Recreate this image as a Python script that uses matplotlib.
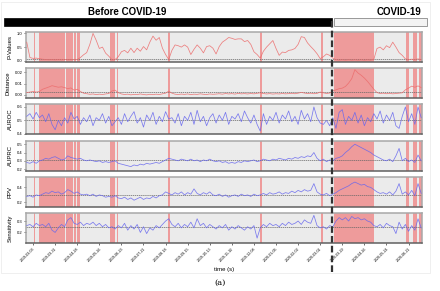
import matplotlib
matplotlib.use('Agg')
import matplotlib.pyplot as plt
import matplotlib.dates as mdates
from matplotlib.lines import Line2D
from matplotlib.patches import Rectangle
import pandas as pd

plt.rcParams['font.family'] = ['Liberation Sans', 'DejaVu Sans']

# sampling dates (every 4 days) and the covid split
dates = pd.date_range('2019-02-23', periods=126, freq='4D')
covid_start = pd.Timestamp('2020-03-16')
tick_dates = pd.date_range('2019-03-03', '2020-06-21', freq='28D')

p_values = [
    0.68, 0.12, 0.09, 0.10, 0.08, 0.06, 0.05, 0.04, 0.05, 0.04,
    0.05, 0.04, 0.05, 0.04, 0.05, 0.04, 0.05, 0.12, 0.22, 0.30,
    0.60, 1.00, 0.75, 0.45, 0.50, 0.28, 0.17, 0.04, 0.05, 0.15,
    0.33, 0.38, 0.29, 0.46, 0.30, 0.46, 0.35, 0.52, 0.40, 0.68,
    0.90, 0.75, 0.85, 0.46, 0.23, 0.05, 0.38, 0.58, 0.55, 0.50,
    0.58, 0.50, 0.23, 0.42, 0.58, 0.46, 0.29, 0.52, 0.55, 0.46,
    0.25, 0.52, 0.68, 0.76, 0.85, 0.82, 0.78, 0.80, 0.80, 0.70,
    0.74, 0.60, 0.33, 0.23, 0.10, 0.35, 0.50, 0.62, 0.74, 0.45,
    0.20, 0.32, 0.30, 0.38, 0.40, 0.45, 0.60, 0.88, 0.85, 0.65,
    0.52, 0.40, 0.26, 0.08, 0.15, 0.25, 0.20, 0.10, 0.04, 0.03,
    0.04, 0.03, 0.04, 0.03, 0.04, 0.03, 0.04, 0.03, 0.04, 0.03,
    0.06, 0.45, 0.50, 0.40, 0.55, 0.48, 0.68, 0.50, 0.30, 0.20,
    0.07, 0.05, 0.06, 0.05, 0.07, 0.05,
]
distance = [
    0.0020, 0.0025, 0.0030, 0.0025, 0.0030, 0.0050, 0.0060, 0.0070, 0.0082, 0.0075,
    0.0068, 0.0072, 0.0065, 0.0055, 0.0062, 0.0042, 0.0050, 0.0030, 0.0015, 0.0010,
    0.0005, 0.0008, 0.0002, 0.0006, 0.0003, 0.0008, 0.0012, 0.0035, 0.0042, 0.0020,
    0.0008, 0.0003, 0.0006, 0.0000, 0.0004, 0.0002, 0.0008, 0.0003, 0.0000, 0.0005,
    0.0002, 0.0006, 0.0003, 0.0009, 0.0015, 0.0033, 0.0015, 0.0006, 0.0003, 0.0007,
    0.0004, 0.0008, 0.0002, 0.0006, 0.0004, 0.0009, 0.0005, 0.0003, 0.0008, 0.0005,
    0.0007, 0.0010, 0.0006, 0.0012, 0.0008, 0.0011, 0.0007, 0.0013, 0.0009, 0.0011,
    0.0008, 0.0012, 0.0009, 0.0014, 0.0018, 0.0012, 0.0008, 0.0011, 0.0007, 0.0010,
    0.0008, 0.0012, 0.0009, 0.0011, 0.0014, 0.0010, 0.0015, 0.0022, 0.0016, 0.0012,
    0.0015, 0.0010, 0.0013, 0.0025, 0.0018, 0.0012, 0.0016, 0.0035, 0.0045, 0.0055,
    0.0060, 0.0075, 0.0105, 0.0145, 0.0225, 0.0195, 0.0175, 0.0150, 0.0120, 0.0085,
    0.0050, 0.0020, 0.0012, 0.0015, 0.0010, 0.0014, 0.0009, 0.0012, 0.0015, 0.0018,
    0.0045, 0.0060, 0.0078, 0.0068, 0.0080, 0.0065,
]
auroc = [
    0.53, 0.55, 0.51, 0.56, 0.52, 0.54, 0.49, 0.55, 0.47, 0.43,
    0.50, 0.46, 0.52, 0.48, 0.56, 0.51, 0.53, 0.47, 0.52, 0.49,
    0.54, 0.46, 0.52, 0.50, 0.55, 0.48, 0.53, 0.46, 0.49, 0.52,
    0.47, 0.55, 0.49, 0.53, 0.565, 0.48, 0.52, 0.45, 0.54, 0.50,
    0.56, 0.47, 0.53, 0.49, 0.565, 0.51, 0.52, 0.48, 0.55, 0.46,
    0.53, 0.50, 0.56, 0.47, 0.575, 0.49, 0.53, 0.46, 0.52, 0.55,
    0.48, 0.54, 0.50, 0.56, 0.47, 0.53, 0.51, 0.55, 0.49, 0.57,
    0.52, 0.48, 0.54, 0.47, 0.42, 0.55, 0.47, 0.53, 0.50, 0.56,
    0.48, 0.54, 0.51, 0.57, 0.49, 0.53, 0.47, 0.575, 0.51, 0.55,
    0.49, 0.60, 0.52, 0.48, 0.47, 0.50, 0.46, 0.52, 0.44, 0.56,
    0.58, 0.47, 0.53, 0.50, 0.56, 0.48, 0.54, 0.46, 0.52, 0.49,
    0.55, 0.51, 0.57, 0.48, 0.54, 0.50, 0.56, 0.46, 0.44, 0.53,
    0.60, 0.49, 0.55, 0.47, 0.60, 0.52,
]
auprc = [
    0.28, 0.27, 0.29, 0.27, 0.30, 0.31, 0.33, 0.32, 0.34, 0.35,
    0.33, 0.31, 0.32, 0.36, 0.34, 0.33, 0.32, 0.33, 0.31, 0.30,
    0.31, 0.30, 0.29, 0.30, 0.28, 0.29, 0.28, 0.29, 0.30, 0.27,
    0.26, 0.25, 0.24, 0.23, 0.25, 0.24, 0.26, 0.25, 0.27, 0.26,
    0.27, 0.28, 0.27, 0.29, 0.31, 0.33, 0.32, 0.31, 0.30, 0.32,
    0.31, 0.30, 0.32, 0.30, 0.31, 0.29, 0.31, 0.30, 0.32, 0.30,
    0.29, 0.30, 0.28, 0.29, 0.27, 0.28, 0.27, 0.29, 0.28, 0.30,
    0.29, 0.30, 0.31, 0.29, 0.30, 0.32, 0.31, 0.30, 0.32, 0.31,
    0.33, 0.32, 0.31, 0.33, 0.32, 0.34, 0.33, 0.35, 0.34, 0.36,
    0.35, 0.40, 0.33, 0.30, 0.32, 0.29, 0.31, 0.30, 0.33, 0.34,
    0.36, 0.40, 0.43, 0.47, 0.50, 0.48, 0.46, 0.44, 0.42, 0.40,
    0.37, 0.35, 0.33, 0.31, 0.30, 0.32, 0.29, 0.36, 0.45, 0.30,
    0.33, 0.29, 0.31, 0.28, 0.37, 0.30,
]
ppv = [
    0.28, 0.29, 0.27, 0.30, 0.29, 0.31, 0.33, 0.32, 0.35, 0.33,
    0.34, 0.31, 0.33, 0.37, 0.35, 0.32, 0.34, 0.31, 0.30, 0.31,
    0.29, 0.31, 0.28, 0.30, 0.29, 0.27, 0.28, 0.27, 0.29, 0.26,
    0.25, 0.27, 0.24, 0.26, 0.23, 0.25, 0.27, 0.24, 0.26, 0.25,
    0.28, 0.26, 0.29, 0.30, 0.34, 0.32, 0.30, 0.33, 0.31, 0.34,
    0.30, 0.33, 0.31, 0.38, 0.32, 0.30, 0.33, 0.31, 0.34, 0.30,
    0.29, 0.31, 0.28, 0.30, 0.27, 0.29, 0.30, 0.28, 0.31, 0.29,
    0.30, 0.28, 0.31, 0.29, 0.30, 0.32, 0.30, 0.33, 0.31, 0.32,
    0.34, 0.31, 0.33, 0.32, 0.35, 0.33, 0.36, 0.34, 0.37, 0.35,
    0.36, 0.45, 0.34, 0.31, 0.30, 0.32, 0.29, 0.31, 0.33, 0.36,
    0.38, 0.40, 0.42, 0.45, 0.47, 0.45, 0.43, 0.44, 0.41, 0.40,
    0.37, 0.34, 0.32, 0.33, 0.31, 0.34, 0.30, 0.35, 0.45, 0.31,
    0.34, 0.30, 0.36, 0.29, 0.45, 0.32,
]
sensitivity = [
    0.26, 0.27, 0.25, 0.28, 0.26, 0.27, 0.25, 0.28, 0.22, 0.20,
    0.24, 0.27, 0.25, 0.31, 0.33, 0.28, 0.27, 0.29, 0.26, 0.28,
    0.27, 0.29, 0.26, 0.28, 0.25, 0.27, 0.24, 0.25, 0.23, 0.26,
    0.24, 0.28, 0.22, 0.26, 0.23, 0.27, 0.20, 0.25, 0.19, 0.24,
    0.22, 0.26, 0.24, 0.27, 0.30, 0.32, 0.27, 0.25, 0.28, 0.24,
    0.27, 0.25, 0.29, 0.24, 0.32, 0.26, 0.28, 0.24, 0.27, 0.25,
    0.23, 0.26, 0.24, 0.27, 0.22, 0.25, 0.23, 0.26, 0.24, 0.22,
    0.25, 0.23, 0.26, 0.15, 0.24, 0.27, 0.25, 0.28, 0.26, 0.27,
    0.25, 0.28, 0.26, 0.29, 0.27, 0.28, 0.30, 0.27, 0.31, 0.29,
    0.28, 0.35, 0.26, 0.24, 0.25, 0.23, 0.26, 0.25, 0.30, 0.33,
    0.31, 0.33, 0.30, 0.34, 0.32, 0.33, 0.31, 0.32, 0.30, 0.29,
    0.26, 0.25, 0.27, 0.24, 0.28, 0.26, 0.25, 0.19, 0.29, 0.23,
    0.27, 0.21, 0.26, 0.22, 0.32, 0.24,
]

# detected drift periods (start, end)
drift_spans = [
    ('2019-03-04', '2019-03-06'), ('2019-03-11', '2019-04-13'),
    ('2019-04-14', '2019-04-22'), ('2019-04-24', '2019-04-27'),
    ('2019-04-28', '2019-05-01'), ('2019-06-09', '2019-06-15'),
    ('2019-06-17', '2019-06-19'), ('2019-08-21', '2019-08-23'),
    ('2019-12-16', '2019-12-18'), ('2020-03-02', '2020-03-04'),
    ('2020-03-18', '2020-05-08'), ('2020-06-18', '2020-06-22'),
    ('2020-06-27', '2020-07-02'), ('2020-07-04', '2020-07-05'),
    ('2020-07-06', '2020-07-08'),
]

panels = [
    ('P-Values', p_values, '#ec6b6b', 0.05, (-0.04, 1.06), [0.0, 0.5, 1.0], '{:.1f}'),
    ('Distance', distance, '#ec6b6b', 0.0025, (-0.003, 0.024), [0.0, 0.01, 0.02], '{:.2f}'),
    ('AUROC', auroc, '#6666ee', 0.5, (0.395, 0.62), [0.4, 0.5, 0.6], '{:.1f}'),
    ('AUPRC', auprc, '#6666ee', 0.31, (0.18, 0.545), [0.2, 0.3, 0.4, 0.5], '{:.1f}'),
    ('PPV', ppv, '#6666ee', 0.305, (0.14, 0.54), [0.2, 0.4], '{:.1f}'),
    ('Sensitivity', sensitivity, '#6666ee', 0.245, (0.105, 0.37), [0.2, 0.3], '{:.1f}'),
]

fig = plt.figure(figsize=(4.4, 2.91), dpi=100)
axes = fig.subplots(6, 1, sharex=True)
fig.subplots_adjust(left=0.059, right=0.959, top=0.891, bottom=0.164, hspace=0.2)

for ax, (name, vals, color, thr, ylim, yticks, fmt) in zip(axes, panels):
    ax.set_facecolor('#ebebeb')
    for s, e in drift_spans:
        ax.axvspan(pd.Timestamp(s), pd.Timestamp(e), color='#f07070', alpha=0.65, lw=0, zorder=1)
    ax.axhline(thr, color='#666666', lw=0.5, ls=(0, (2, 1)), zorder=2)
    ax.plot(dates, vals, color=color, lw=0.55, alpha=0.85, zorder=3)
    ax.set_ylim(*ylim)
    ax.set_yticks(yticks)
    ax.set_yticklabels([fmt.format(t) for t in yticks])
    ax.set_ylabel(name, fontsize=4.3, labelpad=3)
    ax.tick_params(axis='y', labelsize=3, length=1.5, width=0.4, pad=1)
    ax.tick_params(axis='x', length=0)
    for side, sp in ax.spines.items():
        sp.set_color('#a8a8a8')
        sp.set_linewidth(1.1)
    ax.spines['bottom'].set_color('#606060')

ax = axes[-1]
ax.set_xlim(pd.Timestamp('2019-02-22'), pd.Timestamp('2020-07-08'))
ax.set_xticks(tick_dates)
ax.set_xticklabels([d.strftime('%Y-%m-%d') for d in tick_dates], rotation=45, ha='right',
                   rotation_mode='anchor', fontsize=2.6)
ax.tick_params(axis='x', length=1.5, width=0.4, pad=1)
ax.set_xlabel('time (s)', fontsize=4.3, labelpad=3)

# position of the covid split in figure coordinates
disp = ax.transData.transform((mdates.date2num(covid_start), 0))
cx = fig.transFigure.inverted().transform(disp)[0]

bar_y, bar_h = 1 - 25.5 / 291, 7 / 291
fig.patches.append(Rectangle((4 / 440, bar_y), cx - 4 / 440, bar_h, transform=fig.transFigure,
                             facecolor='black', edgecolor='black', lw=0.5))
fig.patches.append(Rectangle((cx + 2 / 440, bar_y), 427 / 440 - cx - 2 / 440, bar_h,
                             transform=fig.transFigure, facecolor='#f3f3f3',
                             edgecolor='#8a8a8a', lw=0.6))
fig.text(0.289, 1 - 12 / 291, 'Before COVID-19', fontsize=7, fontweight='bold',
         ha='center', va='center')
fig.text(0.907, 1 - 12 / 291, 'COVID-19', fontsize=7, fontweight='bold',
         ha='center', va='center')
fig.lines.append(Line2D([cx, cx], [1 - 272 / 291, 1 - 18 / 291], transform=fig.transFigure,
                        color='#333333', lw=1.6, ls=(0, (3, 1.4))))
fig.patches.append(Rectangle((1 / 440, 1 - 273 / 291), 429 / 440, 271 / 291, transform=fig.transFigure,
                             fill=False, edgecolor='#ececec', lw=0.6))
fig.text(0.5, 1 - 283 / 291, '(a)', fontsize=6, family='serif', ha='center', va='center')

fig.savefig('out.png', dpi=100)
